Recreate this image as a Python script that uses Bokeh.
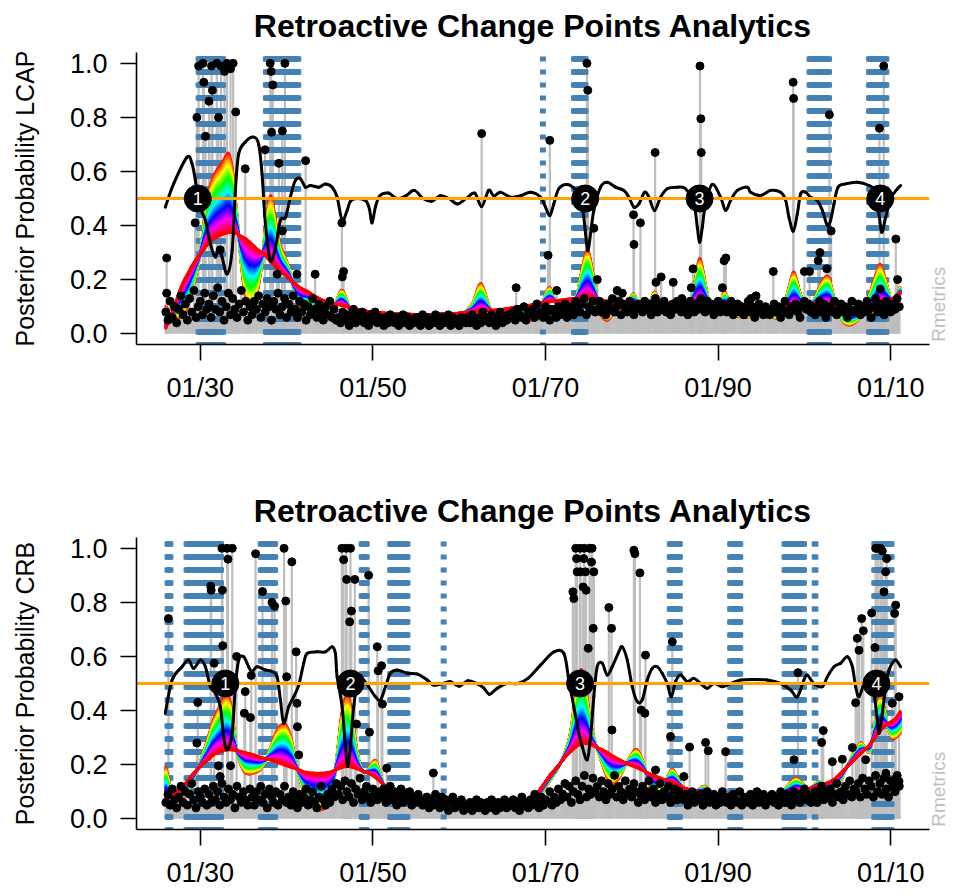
import colorsys
import numpy as np
from bokeh.plotting import figure
from bokeh.models import (Range1d, FixedTicker, PrintfTickFormatter, LinearAxis,
                          ColumnDataSource)
from bokeh.layouts import column
from bokeh.core.properties import value
from bokeh.embed import file_html
from bokeh.resources import INLINE

TITLE = "Retroactive Change Points Analytics"
SIGNATURE = "Rmetrics"
tick_years = [1930, 1950, 1970, 1990, 2010]
tick_labels = ["01/30", "01/50", "01/70", "01/90", "01/10"]
y_ticks = [0.0, 0.2, 0.4, 0.6, 0.8, 1.0]
threshold = 0.5
start_year = 1926.0
step = 0.25  # quarterly baseline observations

# ---------------- LCAP (top) ----------------
base_lcap = [
    8, 5, 12, 6, 10, 4, 9, 14, 7, 11, 5, 13, 8, 16, 6, 10, 12, 7, 15, 9,
    11, 6, 14, 9, 17, 8, 12, 5, 10, 15, 7, 13, 9, 6, 11, 16, 8, 12, 5, 10,
    7, 12, 9, 14, 6, 11, 8, 13, 10, 5, 12, 9, 15, 7, 10, 13, 6, 11, 8, 14,
    9, 6, 12, 8, 11, 5, 10, 7, 13, 9, 6, 11, 8, 5, 10, 7, 12, 6, 9, 5,
    6, 4, 8, 5, 7, 3, 6, 9, 4, 7, 5, 8, 4, 6, 3, 7, 5, 8, 4, 6,
    5, 3, 6, 4, 7, 5, 4, 6, 3, 5, 7, 4, 6, 3, 5, 4, 6, 5, 3, 7,
    4, 6, 3, 5, 4, 7, 5, 3, 6, 4, 5, 7, 3, 6, 4, 5, 3, 6, 5, 4,
    6, 4, 7, 5, 3, 6, 4, 8, 5, 6, 4, 7, 5, 3, 6, 8, 4, 6, 5, 7,
    6, 8, 5, 9, 7, 6, 10, 5, 8, 7, 9, 6, 11, 7, 8, 6, 10, 8, 5, 9,
    8, 6, 10, 7, 9, 11, 6, 8, 10, 7, 12, 9, 8, 11, 13, 7, 10, 9, 12, 8,
    9, 12, 8, 10, 7, 11, 9, 13, 8, 10, 12, 7, 11, 9, 8, 12, 10, 7, 9, 11,
    10, 8, 12, 9, 11, 7, 10, 13, 8, 11, 9, 12, 8, 10, 7, 11, 9, 12, 10, 8,
    11, 9, 7, 12, 10, 8, 11, 9, 13, 10, 8, 12, 9, 11, 7, 10, 12, 8, 11, 9,
    8, 10, 12, 7, 9, 11, 8, 10, 7, 9, 12, 8, 10, 6, 9, 11, 8, 7, 10, 9,
    7, 9, 11, 8, 10, 6, 9, 12, 8, 7, 10, 9, 11, 8, 6, 10, 12, 9, 11, 8,
    10, 7, 9, 12, 8, 11, 6, 9, 10, 8, 12, 7, 9, 11, 8, 10, 6, 9, 12, 8,
    9, 11, 7, 10, 8, 12, 9, 6, 10, 13, 8, 11, 9, 7, 12, 10, 8, 11, 9, 13,
    10,
]

spikes_lcap = [
    (1926.1, 0.28), (1926.1, 0.15), (1929.4, 0.41), (1929.6, 0.80), (1929.8, 0.99),
    (1930.3, 1.0), (1930.4, 0.93), (1930.6, 0.73), (1931.0, 0.86), (1931.4, 0.90),
    (1931.3, 0.99), (1931.9, 1.0), (1932.1, 0.80), (1932.4, 0.99), (1932.8, 0.97),
    (1933.1, 1.0), (1933.5, 0.98), (1933.8, 1.0), (1932.3, 0.31), (1934.1, 0.82),
    (1935.2, 0.61), (1937.5, 0.68), (1938.1, 1.0), (1938.2, 0.97), (1938.4, 0.92),
    (1938.25, 0.745), (1939.5, 0.75), (1939.8, 1.0), (1939.1, 0.63), (1939.5, 0.38),
    (1938.9, 0.22), (1941.2, 0.22), (1942.2, 0.64), (1943.3, 0.22), (1946.4, 0.41),
    (1946.6, 0.23), (1946.45, 0.21), (1962.6, 0.74), (1966.6, 0.17), (1970.3, 0.29),
    (1970.5, 0.715), (1971.3, 0.16), (1974.8, 1.0), (1974.9, 0.90), (1975.6, 0.39),
    (1976.0, 0.20), (1978.3, 0.16), (1978.9, 0.15), (1980.2, 0.44), (1980.25, 0.33),
    (1981.0, 0.41), (1982.7, 0.67), (1982.8, 0.19), (1983.4, 0.21), (1984.8, 0.19),
    (1985.8, 0.13), (1986.9, 0.17), (1987.1, 0.24), (1987.9, 0.99), (1988.0, 0.795),
    (1988.05, 0.67), (1990.5, 0.17), (1990.7, 0.27), (1990.9, 0.28), (1993.8, 0.13),
    (1994.4, 0.14), (1996.4, 0.23), (1998.7, 0.93), (1998.75, 0.87), (2000.0, 0.23),
    (2000.6, 0.23), (2001.6, 0.27), (2001.8, 0.30), (2002.6, 0.24), (2002.9, 0.81),
    (2003.1, 0.38), (2008.8, 0.165), (2009.2, 0.99), (2008.7, 0.76), (2010.6, 0.35),
    (2010.8, 0.20),
]

bands_lcap = [(1929.8, 1932.7), (1937.6, 1941.4), (1969.7, 1969.7),
              (1973.3, 1974.7), (2000.6, 2002.9), (2007.5, 2009.5)]

black_lcap = [
    (1925.94, 0.468), (1926.9, 0.554), (1928.46, 0.653), (1929.04, 0.628), (1929.42, 0.567),
    (1929.8, 0.48), (1930.58, 0.42), (1931.16, 0.332), (1931.74, 0.283), (1932.12, 0.32),
    (1932.52, 0.283), (1933.1, 0.221), (1933.68, 0.307), (1934.06, 0.53), (1934.44, 0.665),
    (1935.22, 0.709), (1936.18, 0.727), (1936.76, 0.70), (1937.15, 0.59), (1937.54, 0.406),
    (1938.12, 0.27), (1938.7, 0.32), (1939.28, 0.42), (1939.86, 0.43), (1940.43, 0.505),
    (1941.01, 0.567), (1941.59, 0.573), (1942.17, 0.542), (1942.75, 0.548), (1943.72, 0.542),
    (1944.49, 0.554), (1945.27, 0.542), (1945.85, 0.505), (1946.43, 0.42), (1947.01, 0.456),
    (1947.39, 0.49), (1948.2, 0.50), (1949.2, 0.49), (1949.6, 0.46), (1949.9, 0.41),
    (1950.3, 0.47), (1950.8, 0.51), (1951.8, 0.52), (1952.8, 0.50), (1953.8, 0.51),
    (1954.8, 0.53), (1955.8, 0.50), (1956.8, 0.49), (1957.8, 0.51), (1958.8, 0.50),
    (1959.8, 0.48), (1960.8, 0.50), (1961.8, 0.52), (1962.6, 0.47), (1963.4, 0.53),
    (1964.0, 0.51), (1964.78, 0.523), (1965.94, 0.505), (1967.1, 0.51), (1968.26, 0.523),
    (1969.42, 0.505), (1970.0, 0.468), (1970.5, 0.437), (1970.96, 0.48), (1971.54, 0.536),
    (1972.52, 0.552), (1973.48, 0.53), (1974.26, 0.468), (1974.64, 0.369), (1974.9, 0.307),
    (1975.22, 0.369), (1975.6, 0.456), (1976.38, 0.542), (1977.15, 0.56), (1978.12, 0.542),
    (1979.08, 0.53), (1979.66, 0.505), (1980.24, 0.468), (1980.82, 0.48), (1981.48, 0.523),
    (1981.98, 0.505), (1982.64, 0.456), (1983.33, 0.505), (1984.11, 0.536), (1985.27, 0.542),
    (1986.23, 0.536), (1987.2, 0.48), (1987.59, 0.394), (1987.86, 0.338), (1988.17, 0.394),
    (1988.55, 0.48), (1989.33, 0.552), (1990.29, 0.505), (1990.87, 0.456), (1991.45, 0.493),
    (1992.23, 0.53), (1993.39, 0.542), (1993.77, 0.523), (1994.93, 0.511), (1996.09, 0.53),
    (1997.25, 0.523), (1997.83, 0.493), (1998.21, 0.431), (1998.72, 0.379), (1999.18, 0.443),
    (1999.57, 0.517), (2000.14, 0.523), (2000.72, 0.505), (2001.5, 0.493), (2002.08, 0.456),
    (2002.66, 0.40), (2003.04, 0.419), (2003.43, 0.48), (2003.9, 0.542), (2004.78, 0.554),
    (2006.14, 0.56), (2007.48, 0.548), (2008.06, 0.53), (2008.64, 0.443), (2008.96, 0.375),
    (2009.42, 0.43), (2010.0, 0.499), (2010.78, 0.536), (2011.16, 0.548),
]

# (year, wiggly posterior, smooth posterior)
fan_lcap = [
    (1926.0, 0.10, 0.02), (1926.5, 0.08, 0.06), (1927.0, 0.06, 0.10), (1927.5, 0.06, 0.15),
    (1928.0, 0.07, 0.19), (1928.5, 0.10, 0.22), (1929.0, 0.15, 0.25), (1929.5, 0.22, 0.275),
    (1930.0, 0.30, 0.295), (1930.5, 0.43, 0.315), (1931.0, 0.53, 0.335), (1931.5, 0.58, 0.348),
    (1932.0, 0.61, 0.358), (1932.5, 0.63, 0.366), (1933.0, 0.66, 0.372), (1933.3, 0.665, 0.374),
    (1933.7, 0.61, 0.375), (1934.0, 0.52, 0.372), (1934.4, 0.38, 0.367), (1934.8, 0.24, 0.36),
    (1935.2, 0.14, 0.353), (1935.7, 0.10, 0.34), (1936.2, 0.11, 0.325), (1936.7, 0.17, 0.31),
    (1937.2, 0.28, 0.298), (1937.6, 0.41, 0.285), (1938.0, 0.50, 0.27), (1938.3, 0.50, 0.26),
    (1938.7, 0.42, 0.247), (1939.2, 0.33, 0.232), (1939.7, 0.29, 0.22), (1940.2, 0.25, 0.205),
    (1940.7, 0.18, 0.192), (1941.2, 0.12, 0.18), (1941.7, 0.10, 0.168), (1942.5, 0.11, 0.155),
    (1943.5, 0.09, 0.135), (1944.5, 0.08, 0.12), (1945.5, 0.10, 0.11), (1946.3, 0.16, 0.105),
    (1946.9, 0.13, 0.10), (1947.6, 0.06, 0.095), (1948.6, 0.05, 0.088), (1950.0, 0.07, 0.08),
    (1952.0, 0.06, 0.075), (1954.0, 0.07, 0.072), (1956.0, 0.06, 0.071), (1958.0, 0.07, 0.073),
    (1960.0, 0.07, 0.076), (1961.5, 0.11, 0.08), (1962.5, 0.185, 0.083), (1963.5, 0.10, 0.086),
    (1964.5, 0.05, 0.089), (1965.5, 0.06, 0.093), (1966.6, 0.10, 0.098), (1967.6, 0.07, 0.103),
    (1968.6, 0.05, 0.108), (1969.6, 0.11, 0.113), (1970.5, 0.17, 0.118), (1971.4, 0.09, 0.123),
    (1972.5, 0.06, 0.128), (1973.5, 0.12, 0.131), (1974.3, 0.25, 0.133), (1974.9, 0.31, 0.134),
    (1975.5, 0.22, 0.132), (1976.3, 0.08, 0.127), (1977.2, 0.05, 0.12), (1978.2, 0.09, 0.116),
    (1979.2, 0.10, 0.113), (1980.2, 0.147, 0.11), (1981.0, 0.09, 0.11), (1982.0, 0.11, 0.11),
    (1982.7, 0.153, 0.11), (1983.6, 0.08, 0.11), (1984.5, 0.07, 0.111), (1985.5, 0.09, 0.113),
    (1986.5, 0.08, 0.115), (1987.3, 0.19, 0.116), (1987.9, 0.277, 0.116), (1988.6, 0.17, 0.114),
    (1989.3, 0.07, 0.11), (1990.0, 0.09, 0.106), (1990.8, 0.153, 0.102), (1991.7, 0.08, 0.097),
    (1993.0, 0.06, 0.09), (1994.5, 0.07, 0.085), (1996.0, 0.06, 0.087), (1997.3, 0.07, 0.091),
    (1998.2, 0.17, 0.096), (1998.8, 0.227, 0.10), (1999.5, 0.15, 0.105), (2000.3, 0.09, 0.109),
    (2001.2, 0.13, 0.109), (2002.0, 0.19, 0.107), (2002.8, 0.209, 0.104), (2003.6, 0.11, 0.097),
    (2004.6, 0.04, 0.085), (2005.6, 0.036, 0.079), (2006.6, 0.07, 0.082), (2007.5, 0.14, 0.088),
    (2008.3, 0.22, 0.097), (2008.8, 0.256, 0.105), (2009.4, 0.20, 0.113), (2010.1, 0.12, 0.127),
    (2010.6, 0.14, 0.138), (2011.1, 0.17, 0.148),
]

cp_lcap = [1929.7, 1974.6, 1987.85, 2008.8]

# ---------------- CRB (bottom) ----------------
base_crb = [
    6, 9, 5, 11, 7, 4, 8, 12, 6, 10, 5, 9, 13, 7, 4, 10, 8, 6, 11, 5,
    9, 6, 12, 7, 10, 5, 13, 8, 6, 11, 7, 9, 4, 12, 8, 6, 10, 7, 5, 11,
    8, 5, 10, 7, 12, 6, 9, 4, 11, 8, 6, 10, 5, 9, 7, 12, 6, 8, 5, 10,
    7, 4, 9, 6, 8, 11, 5, 7, 10, 6, 4, 8, 12, 7, 5, 9, 6, 11, 8, 13,
    9, 12, 7, 14, 10, 8, 13, 6, 11, 9, 15, 7, 10, 12, 8, 6, 11, 9, 7, 10,
    8, 11, 6, 9, 12, 7, 10, 5, 8, 11, 6, 9, 7, 10, 5, 8, 6, 9, 7, 5,
    6, 8, 4, 7, 5, 9, 6, 4, 8, 5, 7, 3, 6, 8, 4, 6, 5, 7, 3, 5,
    4, 6, 3, 5, 7, 4, 6, 5, 3, 6, 4, 7, 5, 3, 6, 4, 5, 7, 4, 6,
    5, 7, 4, 6, 3, 8, 5, 6, 4, 7, 5, 9, 6, 4, 8, 5, 7, 6, 10, 5,
    8, 6, 11, 7, 9, 13, 8, 12, 6, 10, 14, 9, 7, 12, 16, 8, 11, 9, 15, 10,
    12, 8, 14, 10, 7, 13, 9, 11, 16, 8, 12, 10, 7, 14, 9, 11, 8, 13, 10, 6,
    9, 12, 7, 10, 14, 8, 11, 6, 9, 13, 7, 10, 8, 12, 6, 9, 11, 7, 10, 8,
    7, 9, 5, 8, 10, 6, 8, 7, 9, 5, 8, 10, 6, 7, 9, 5, 8, 6, 10, 7,
    6, 8, 5, 9, 7, 6, 10, 5, 8, 7, 6, 9, 5, 8, 10, 6, 7, 9, 5, 8,
    7, 9, 6, 8, 5, 10, 7, 6, 9, 8, 5, 10, 7, 9, 6, 8, 11, 7, 9, 6,
    8, 10, 6, 9, 12, 7, 10, 8, 11, 6, 9, 13, 8, 10, 7, 12, 9, 14, 8, 11,
    10, 13, 8, 15, 11, 9, 14, 12, 8, 16, 10, 13, 9, 15, 11, 8, 14, 12, 10, 16,
    12,
]

spikes_crb = [
    (1926.3, 0.74), (1929.7, 0.43), (1929.6, 0.28), (1931.2, 0.86), (1931.25, 0.845),
    (1932.5, 1.0), (1933.1, 1.0), (1933.7, 1.0), (1933.2, 0.96), (1932.55, 0.845),
    (1932.6, 0.64), (1931.6, 0.575), (1932.1, 0.196), (1932.3, 0.156), (1933.5, 0.196),
    (1934.2, 0.60), (1935.2, 0.47), (1935.1, 0.39), (1935.8, 0.374), (1936.4, 0.98),
    (1937.2, 0.84), (1938.3, 0.80), (1938.6, 0.786), (1939.7, 1.0), (1940.6, 0.95),
    (1939.9, 0.805), (1935.9, 0.53), (1940.0, 0.525), (1941.1, 0.617), (1941.2, 0.427),
    (1941.25, 0.34), (1941.4, 0.236), (1946.4, 1.0), (1946.9, 1.0), (1947.4, 1.0),
    (1946.6, 0.958), (1946.95, 0.885), (1947.9, 0.885), (1949.5, 0.90), (1947.5, 0.768),
    (1947.3, 0.728), (1950.5, 0.636), (1951.0, 0.566), (1950.6, 0.547), (1951.1, 0.424),
    (1949.6, 0.32), (1948.1, 0.35), (1957.0, 0.169), (1951.6, 0.187),
    (1973.5, 1.0), (1974.0, 1.0), (1974.5, 1.0), (1975.1, 1.0), (1975.4, 1.0),
    (1973.6, 0.962), (1974.44, 0.962), (1973.67, 0.913), (1974.06, 0.913), (1974.64, 0.913),
    (1975.6, 0.913), (1975.33, 0.949), (1973.17, 0.839), (1973.28, 0.814), (1974.37, 0.857),
    (1974.7, 0.845), (1975.53, 0.704), (1974.95, 0.63), (1980.24, 0.993), (1980.36, 0.98),
    (1980.94, 0.909), (1977.34, 0.781), (1977.65, 0.704), (1981.59, 0.605), (1981.09, 0.402),
    (1981.52, 0.39), (1977.7, 0.328), (1984.69, 0.654), (1984.49, 0.304), (1986.7, 0.265),
    (1988.55, 0.282), (1988.86, 0.251), (1990.87, 0.248), (1999.26, 0.54), (1998.79, 0.218),
    (2002.19, 0.326), (2002.0, 0.282), (2003.24, 0.211), (2004.4, 0.22), (2006.64, 0.74),
    (2006.83, 0.695), (2006.13, 0.667), (2006.33, 0.623), (2005.94, 0.429), (2007.8, 0.761),
    (2008.26, 1.0), (2008.5, 1.0), (2008.8, 1.0), (2009.03, 0.99), (2009.54, 0.962),
    (2009.42, 0.913), (2009.23, 0.839), (2010.58, 0.79), (2010.46, 0.759), (2008.18, 0.633),
    (2010.19, 0.427), (2010.97, 0.451), (2009.45, 0.168), (2010.6, 0.146), (2010.97, 0.138),
    (2005.56, 0.263), (2007.1, 0.218), (1982.75, 0.18), (1986.04, 0.156),
]

bands_crb = [(1926.2, 1926.6), (1928.4, 1932.4), (1937.0, 1938.7), (1948.7, 1949.3),
             (1952.0, 1954.0), (1958.2, 1958.2), (1984.4, 1985.6), (1991.4, 1992.6),
             (1997.7, 2000.0), (2001.2, 2001.3), (2008.1, 2010.1)]

black_crb = [
    (1925.94, 0.39), (1926.72, 0.513), (1927.88, 0.562), (1928.64, 0.587), (1929.22, 0.556),
    (1930.0, 0.587), (1930.58, 0.562), (1931.16, 0.488), (1931.74, 0.464), (1932.32, 0.414),
    (1932.7, 0.304), (1933.1, 0.255), (1933.68, 0.316), (1934.06, 0.488), (1934.44, 0.587),
    (1935.02, 0.599), (1935.6, 0.562), (1935.99, 0.544), (1936.57, 0.562), (1937.54, 0.55),
    (1938.31, 0.544), (1938.89, 0.525), (1939.28, 0.439), (1939.66, 0.353), (1940.24, 0.414),
    (1940.82, 0.451), (1941.4, 0.494), (1941.98, 0.575), (1942.37, 0.611), (1943.53, 0.617),
    (1944.49, 0.617), (1945.27, 0.636), (1945.65, 0.611), (1945.85, 0.525), (1946.43, 0.414),
    (1946.81, 0.267), (1947.08, 0.193), (1947.39, 0.267), (1947.77, 0.414), (1948.35, 0.525),
    (1948.93, 0.513), (1949.51, 0.488), (1950.29, 0.451), (1950.87, 0.439), (1951.45, 0.488),
    (1952.03, 0.538), (1952.81, 0.55), (1953.97, 0.538), (1955.13, 0.535), (1956.29, 0.513),
    (1957.05, 0.494), (1958.21, 0.501), (1958.99, 0.507), (1960.0, 0.49), (1961.0, 0.51),
    (1962.0, 0.50), (1962.8, 0.485), (1963.5, 0.46), (1964.3, 0.48), (1965.5, 0.50),
    (1966.8, 0.50), (1968.0, 0.52), (1969.42, 0.568), (1970.97, 0.617), (1972.13, 0.611),
    (1972.7, 0.513), (1973.28, 0.415), (1973.86, 0.316), (1974.25, 0.267), (1974.83, 0.218),
    (1975.22, 0.304), (1975.6, 0.451), (1975.99, 0.562), (1976.57, 0.575), (1977.15, 0.531),
    (1977.73, 0.562), (1978.5, 0.617), (1978.89, 0.636), (1979.47, 0.587), (1980.05, 0.488),
    (1980.63, 0.433), (1981.21, 0.439), (1981.79, 0.513), (1982.37, 0.556), (1982.95, 0.562),
    (1983.53, 0.537), (1984.11, 0.5), (1984.57, 0.451), (1985.07, 0.507), (1985.65, 0.531),
    (1986.43, 0.507), (1987.2, 0.519), (1987.97, 0.5), (1988.74, 0.482), (1989.52, 0.5),
    (1990.48, 0.488), (1991.45, 0.5), (1992.61, 0.513), (1994.15, 0.515), (1995.7, 0.513),
    (1997.25, 0.5), (1998.41, 0.476), (1999.18, 0.451), (1999.95, 0.513), (2000.34, 0.531),
    (2001.11, 0.5), (2002.08, 0.488), (2002.66, 0.525), (2003.43, 0.562), (2004.2, 0.575),
    (2004.98, 0.599), (2005.56, 0.562), (2005.94, 0.488), (2006.33, 0.451), (2006.91, 0.5),
    (2007.49, 0.525), (2008.07, 0.464), (2008.45, 0.365), (2008.65, 0.316), (2009.03, 0.39),
    (2009.42, 0.488), (2009.81, 0.55), (2010.19, 0.575), (2010.58, 0.587), (2011.16, 0.562),
]

fan_crb = [
    (1926.0, 0.19, 0.07), (1926.5, 0.12, 0.08), (1927.0, 0.08, 0.095), (1927.3, 0.07, 0.10),
    (1928.0, 0.08, 0.12), (1928.5, 0.10, 0.14), (1929.0, 0.13, 0.16), (1929.5, 0.17, 0.178),
    (1930.0, 0.21, 0.193), (1930.5, 0.26, 0.207), (1931.0, 0.31, 0.22), (1931.5, 0.365, 0.235),
    (1932.0, 0.40, 0.243), (1932.5, 0.435, 0.249), (1933.0, 0.458, 0.254), (1933.4, 0.44, 0.255),
    (1933.8, 0.36, 0.254), (1934.2, 0.25, 0.252), (1934.7, 0.20, 0.249), (1935.2, 0.17, 0.245),
    (1935.7, 0.165, 0.241), (1936.3, 0.17, 0.235), (1936.9, 0.18, 0.228), (1937.5, 0.21, 0.222),
    (1938.2, 0.27, 0.216), (1938.8, 0.32, 0.21), (1939.3, 0.345, 0.203), (1939.9, 0.347, 0.196),
    (1940.5, 0.30, 0.19), (1941.0, 0.22, 0.185), (1941.6, 0.14, 0.179), (1942.2, 0.08, 0.172),
    (1943.0, 0.045, 0.169), (1943.9, 0.033, 0.168), (1944.8, 0.05, 0.171), (1945.4, 0.12, 0.177),
    (1945.9, 0.25, 0.183), (1946.4, 0.39, 0.189), (1947.0, 0.458, 0.193), (1947.5, 0.40, 0.191),
    (1948.0, 0.28, 0.186), (1948.5, 0.20, 0.18), (1949.0, 0.17, 0.174), (1949.6, 0.19, 0.166),
    (1950.3, 0.215, 0.152), (1950.9, 0.16, 0.135), (1951.6, 0.09, 0.115), (1952.4, 0.058, 0.098),
    (1953.3, 0.06, 0.082), (1954.3, 0.07, 0.072), (1955.3, 0.08, 0.065), (1956.3, 0.06, 0.06),
    (1957.3, 0.05, 0.058), (1959.0, 0.06, 0.053), (1961.0, 0.055, 0.052), (1963.0, 0.05, 0.052),
    (1965.0, 0.055, 0.053), (1967.0, 0.05, 0.058), (1968.5, 0.06, 0.075), (1969.5, 0.09, 0.115),
    (1970.5, 0.14, 0.16), (1971.5, 0.19, 0.197), (1972.3, 0.25, 0.228), (1972.9, 0.32, 0.248),
    (1973.5, 0.46, 0.264), (1974.1, 0.55, 0.276), (1974.6, 0.50, 0.279), (1975.1, 0.38, 0.275),
    (1975.6, 0.30, 0.269), (1976.1, 0.25, 0.262), (1976.6, 0.20, 0.255), (1977.2, 0.15, 0.245),
    (1977.8, 0.13, 0.232), (1978.5, 0.15, 0.22), (1979.3, 0.20, 0.206), (1980.0, 0.24, 0.196),
    (1980.6, 0.255, 0.188), (1981.3, 0.21, 0.178), (1982.1, 0.12, 0.166), (1982.9, 0.10, 0.156),
    (1983.8, 0.13, 0.144), (1984.7, 0.183, 0.132), (1985.6, 0.13, 0.12), (1986.4, 0.095, 0.11),
    (1987.4, 0.10, 0.102), (1988.4, 0.12, 0.095), (1989.3, 0.095, 0.089), (1990.3, 0.08, 0.083),
    (1991.8, 0.07, 0.077), (1993.2, 0.065, 0.075), (1994.5, 0.07, 0.076), (1995.8, 0.075, 0.08),
    (1997.0, 0.085, 0.087), (1998.0, 0.12, 0.094), (1999.0, 0.15, 0.10), (1999.8, 0.13, 0.105),
    (2000.5, 0.11, 0.11), (2001.3, 0.13, 0.117), (2001.9, 0.137, 0.125), (2002.7, 0.12, 0.133),
    (2003.4, 0.107, 0.145), (2004.2, 0.14, 0.168), (2004.9, 0.19, 0.19), (2005.7, 0.24, 0.215),
    (2006.5, 0.28, 0.24), (2007.1, 0.26, 0.258), (2007.6, 0.25, 0.275), (2008.2, 0.36, 0.30),
    (2008.7, 0.45, 0.32), (2009.1, 0.43, 0.335), (2009.6, 0.35, 0.35), (2010.1, 0.30, 0.36),
    (2010.6, 0.30, 0.372), (2011.1, 0.316, 0.396),
]

cp_crb = [1932.9, 1947.4, 1974.0, 2008.35]

# ---------------- drawing ----------------
FONT = "Liberation Sans"
X_LO, X_HI = 1922.6, 2014.5
Y_LO, Y_HI = -0.04, 1.04
N_FAN = 60
SIG_AT = -0.03


def catmull(x, y):
    """Bezier control points for a smooth path through the given points."""
    x = np.asarray(x, float)
    y = np.asarray(y, float)
    xp = np.concatenate([[x[0]], x, [x[-1]]])
    yp = np.concatenate([[y[0]], y, [y[-1]]])
    x0, x1, x2, x3 = xp[:-3], xp[1:-2], xp[2:-1], xp[3:]
    y0, y1, y2, y3 = yp[:-3], yp[1:-2], yp[2:-1], yp[3:]
    return dict(x0=x1, y0=y1, x1=x2, y1=y2,
                cx0=x1 + (x2 - x0) / 6.0, cy0=y1 + (y2 - y0) / 6.0,
                cx1=x2 - (x3 - x1) / 6.0, cy1=y2 - (y3 - y1) / 6.0)


def panel(ylabel, base, spikes, bands, black, fan, cps, top_border, bottom_border):
    p = figure(frame_width=793, frame_height=292,
               x_range=Range1d(X_LO, X_HI), y_range=Range1d(Y_LO, Y_HI),
               output_backend="svg", toolbar_location=None,
               min_border_left=136, min_border_right=20,
               min_border_top=top_border, min_border_bottom=bottom_border,
               title=TITLE)
    p.title.align = "center"
    p.title.vertical_align = "top"
    p.title.text_font = FONT
    p.title.text_font_size = "32px"
    p.title.text_font_style = "bold"
    p.title.text_color = "black"
    p.title.standoff = 14

    xax = p.below[0]
    yax = p.left[0]

    # signature at the right, reading upward
    sig = LinearAxis(ticker=FixedTicker(ticks=[SIG_AT]),
                     major_label_overrides={SIG_AT: SIGNATURE},
                     major_label_orientation=np.pi / 2,
                     axis_line_color=None, major_tick_line_color=None,
                     minor_tick_line_color=None, major_tick_in=0, major_tick_out=0,
                     minor_tick_in=0, minor_tick_out=0, major_label_standoff=9,
                     major_label_text_font=FONT, major_label_text_font_size="19px",
                     major_label_text_color="#BEBEBE")
    p.add_layout(sig, "right")

    p.outline_line_color = None
    p.xgrid.visible = False
    p.ygrid.visible = False

    for ax in (xax, yax):
        ax.axis_line_width = 1.6
        ax.axis_line_color = "black"
        ax.major_tick_line_width = 1.6
        ax.major_tick_line_color = "black"
        ax.major_tick_out = 16
        ax.major_tick_in = 0
        ax.minor_tick_line_color = None
        ax.major_label_text_font = FONT
        ax.major_label_text_font_size = "27px"
        ax.major_label_text_color = "black"
    xax.ticker = FixedTicker(ticks=tick_years)
    xax.major_label_overrides = {k: v for k, v in zip(tick_years, tick_labels)}
    xax.major_label_standoff = 12
    yax.ticker = FixedTicker(ticks=y_ticks)
    yax.formatter = PrintfTickFormatter(format="%.1f")
    yax.major_label_standoff = 13
    yax.axis_label = ylabel
    yax.axis_label_text_font = FONT
    yax.axis_label_text_font_size = "25px"
    yax.axis_label_text_font_style = "normal"
    yax.axis_label_text_color = "black"
    yax.axis_label_standoff = 28

    bx = start_year + step * np.arange(len(base))
    by = np.array(base) / 100.0
    sx = np.array([s[0] for s in spikes])
    sy = np.array([s[1] for s in spikes])

    # grey stems
    p.segment(bx, 0, bx, by, line_color="#BEBEBE", line_width=2.5)
    p.segment(sx, 0, sx, sy, line_color="#BEBEBE", line_width=2.2)

    # change point months (steelblue dotted verticals)
    vx = np.concatenate([np.arange(a, b + 1e-6, 1.0 / 12.0) for a, b in bands])
    p.segment(vx, Y_HI, vx, Y_LO, line_color="#4682B4", line_width=6,
              line_dash="5 8", line_dash_offset=9)

    # rainbow fan between wiggly and smooth posterior
    fx = [f[0] for f in fan]
    fw = np.array([f[1] for f in fan])
    fs = np.array([f[2] for f in fan])
    cols = {k: [] for k in ("x0", "y0", "x1", "y1", "cx0", "cy0", "cx1", "cy1")}
    colors = []
    for i in range(N_FAN):
        t = i / (N_FAN - 1)
        r, g, b = colorsys.hsv_to_rgb(t if t < 1 else 0.0, 1.0, 1.0)
        c = "#%02x%02x%02x" % (int(r * 255), int(g * 255), int(b * 255))
        seg = catmull(fx, (1 - t) * fw + t * fs)
        for k in cols:
            cols[k].extend(seg[k].tolist())
        colors.extend([c] * len(seg["x0"]))
    cols["color"] = colors
    p.bezier("x0", "y0", "x1", "y1", "cx0", "cy0", "cx1", "cy1",
             source=ColumnDataSource(cols), line_color="color", line_width=2.8,
             line_cap="round")

    # points
    p.scatter(np.concatenate([bx, sx]), np.concatenate([by, sy]), size=8,
              fill_color="black", line_color="black")

    # black curve
    bseg = catmull([b[0] for b in black], [b[1] for b in black])
    p.bezier(source=ColumnDataSource(bseg), x0="x0", y0="y0", x1="x1", y1="y1",
             cx0="cx0", cy0="cy0", cx1="cx1", cy1="cy1",
             line_color="black", line_width=3, line_cap="round")

    # threshold
    p.line([X_LO, X_HI], [threshold, threshold], line_color="#FFA500", line_width=3)

    # numbered change points
    p.scatter(cps, [threshold] * len(cps), size=27, fill_color="black",
              line_color="black")
    p.text(cps, [threshold] * len(cps), text=[str(i + 1) for i in range(len(cps))],
           text_color="white", text_align="center", text_baseline="middle",
           text_font=value(FONT), text_font_size="18px")
    return p


p1 = panel("Posterior Probability LCAP", base_lcap, spikes_lcap, bands_lcap,
           black_lcap, fan_lcap, cp_lcap, 52, 141)
p2 = panel("Posterior Probability CRB", base_crb, spikes_crb, bands_crb,
           black_crb, fan_crb, cp_crb, 52, 56)

layout = column(p1, p2, spacing=0)
open("out.html", "w").write(file_html(layout, INLINE))
